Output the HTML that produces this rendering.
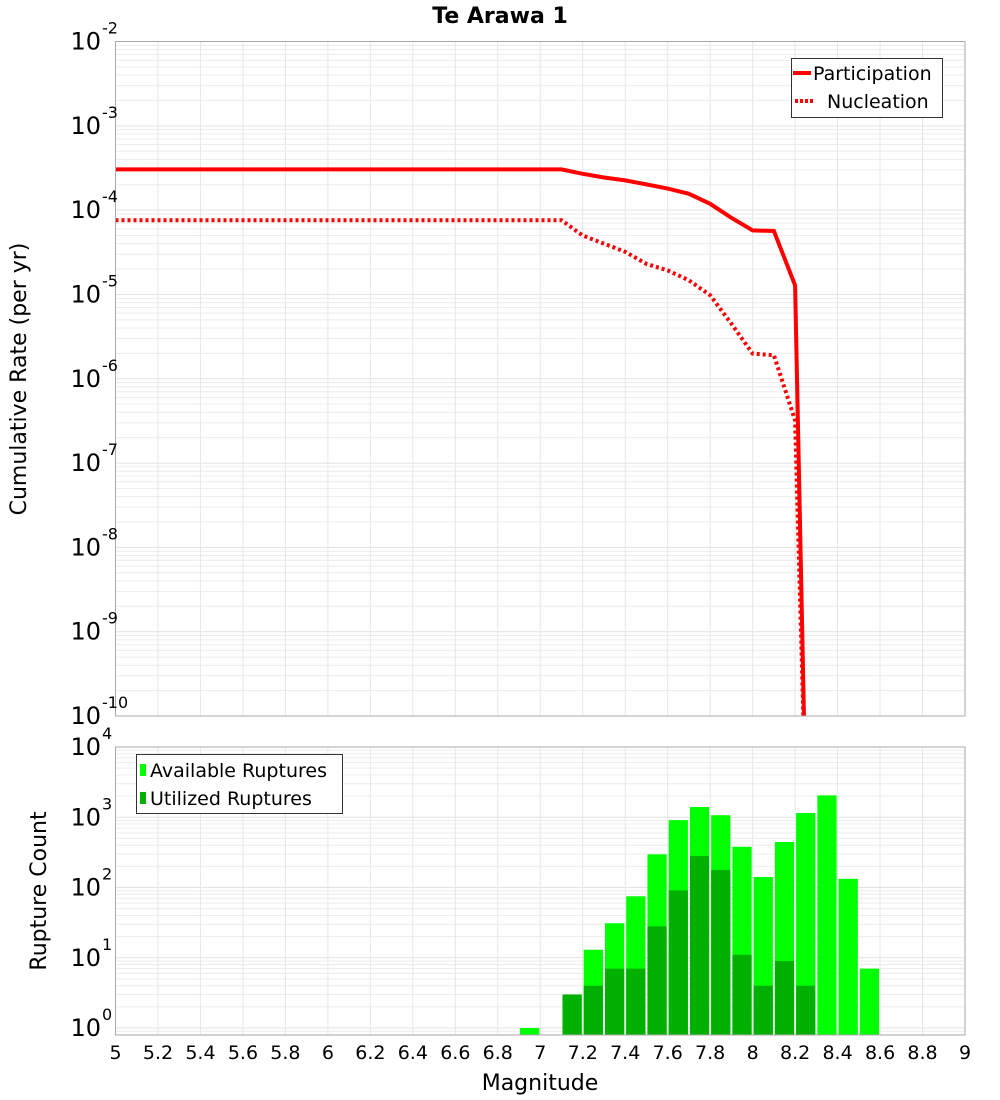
<!DOCTYPE html>
<html><head><meta charset="utf-8"><style>
body{margin:0;background:#fff;}
svg{display:block;font-family:"DejaVu Sans","Liberation Sans",sans-serif;}
</style></head><body>
<svg id="c" width="1000" height="1100" xmlns="http://www.w3.org/2000/svg"></svg>
<script>
const mags = [5,5.1,5.2,5.3,5.4,5.5,5.6,5.7,5.8,5.9,6,6.1,6.2,6.3,6.4,6.5,6.6,6.7,6.8,6.9,7,7.1,7.2,7.3,7.4,7.5,7.6,7.7,7.8,7.9,8,8.1,8.2,8.25];
const participation = [3.04e-4,3.04e-4,3.04e-4,3.04e-4,3.04e-4,3.04e-4,3.04e-4,3.04e-4,3.04e-4,3.04e-4,3.04e-4,3.04e-4,3.04e-4,3.04e-4,3.04e-4,3.04e-4,3.04e-4,3.04e-4,3.04e-4,3.04e-4,3.04e-4,3.04e-4,2.7e-4,2.44e-4,2.25e-4,2.02e-4,1.8e-4,1.56e-4,1.19e-4,8.1e-5,5.75e-5,5.65e-5,1.28e-5,1e-11];
const nucleation = [7.6e-5,7.6e-5,7.6e-5,7.6e-5,7.6e-5,7.6e-5,7.6e-5,7.6e-5,7.6e-5,7.6e-5,7.6e-5,7.6e-5,7.6e-5,7.6e-5,7.6e-5,7.6e-5,7.6e-5,7.6e-5,7.6e-5,7.6e-5,7.6e-5,7.6e-5,5.0e-5,4.0e-5,3.2e-5,2.3e-5,1.93e-5,1.47e-5,9.8e-6,4.5e-6,1.99e-6,1.9e-6,3.2e-7,1e-11];
const binMags = [6.9,7.1,7.2,7.3,7.4,7.5,7.6,7.7,7.8,7.9,8.0,8.1,8.2,8.3,8.4,8.5];
const available = [1,3,13,31,75,297,910,1400,1070,380,141,445,1150,2050,133,7];
const utilized = [0,3,4,7,7,28,91,280,178,11,4,9,4,0,0,0];
const xTicks = ["5","5.2","5.4","5.6","5.8","6","6.2","6.4","6.6","6.8","7","7.2","7.4","7.6","7.8","8","8.2","8.4","8.6","8.8","9"];
const topExps = [-2,-3,-4,-5,-6,-7,-8,-9,-10];
const botExps = [4,3,2,1,0];

const svg=document.getElementById('c');
const NS='http://www.w3.org/2000/svg';
function el(t,a,p){const e=document.createElementNS(NS,t);for(const k in a)e.setAttribute(k,a[k]);(p||svg).appendChild(e);return e;}
const L=115.5,R=965,T1=41.5,B1=716,T2=747,B2=1035;
const x=m=>L+(m-5)*(R-L)/4;
const yTop=v=>T1+(-2-Math.log10(v))*(B1-T1)/8;
const yBot=v=>1028-Math.log10(v)*70.25;

// grids
function grid(top,bot,yf,dmin,dmax,name){
  const g=el('g',{});
  
  
  for(let d=dmin;d<dmax;d++)for(let k=1;k<10;k++){const yy=yf(k*Math.pow(10,d));if(yy<top||yy>bot)continue;
    el('line',{x1:L,x2:R,y1:yy,y2:yy,stroke:k==1?'#e2e2e2':'#ececec','stroke-width':1},g);}
  for(let i=1;i<20;i++){const xx=x(5+i*0.2);el('line',{x1:xx,x2:xx,y1:top,y2:bot,stroke:'#e6e6e6','stroke-width':1},g);}
}
grid(T1,B1,yTop,-10,-2,'top-grid');
grid(T2,B2,yBot,-1,4,'bottom-grid');

// title
const ti=el('text',{x:500,y:23,'text-anchor':'middle','font-size':22,'font-weight':'bold'});ti.textContent='Te Arawa 1';


// curves
function path(vals){return vals.map((v,i)=>(i?'L':'M')+x(mags[i]).toFixed(1)+','+yTop(v).toFixed(1)).join(' ');}
const clip=el('clipPath',{id:'cp'});el('rect',{x:L,y:T1,width:R-L,height:B1-T1},clip);
const pp=el('path',{d:path(participation),fill:'none',stroke:'#ff0000','stroke-width':4,'clip-path':'url(#cp)'});

const np=el('path',{d:path(nucleation),fill:'none',stroke:'#ff0000','stroke-width':4,'stroke-dasharray':'3,3','clip-path':'url(#cp)'});


// bars
binMags.forEach((m,i)=>{
  const x0=x(m)+1,w=x(m+0.1)-x(m)-2;
  if(available[i]>0){const yy=yBot(available[i]);const r=el('rect',{x:x0,y:yy,width:w,height:B2-yy,fill:'#00ff00'});
    }
  if(utilized[i]>0){const yy=yBot(utilized[i]);const r=el('rect',{x:x0,y:yy,width:w,height:B2-yy,fill:'#00b000'});
    }
});

// frames
el('rect',{x:L,y:T1,width:R-L,height:B1-T1,fill:'none',stroke:'#aaa','stroke-width':1});
el('rect',{x:L,y:T2,width:R-L,height:B2-T2,fill:'none',stroke:'#aaa','stroke-width':1});

// y tick labels
function ylab(yy,e,name){const t=el('text',{x:101,y:yy+8,'text-anchor':'end','font-size':24});t.textContent='10';
  
  const s=el('text',{x:102,y:yy-8,'font-size':16});s.textContent=String(e);}
topExps.forEach(e=>ylab(yTop(Math.pow(10,e)),e,'y-tick-label'));
botExps.forEach(e=>ylab(yBot(Math.pow(10,e)),e,'y2-tick-label'));

// x tick labels
xTicks.forEach(s=>{const t=el('text',{x:x(parseFloat(s)),y:1059,'text-anchor':'middle','font-size':19});t.textContent=s;
  });

// axis titles
let a=el('text',{x:540,y:1090,'text-anchor':'middle','font-size':22});a.textContent='Magnitude';

a=el('text',{x:0,y:0,'text-anchor':'middle','font-size':22,transform:'translate(26,379) rotate(-90)'});a.textContent='Cumulative Rate (per yr)';

a=el('text',{x:0,y:0,'text-anchor':'middle','font-size':22,transform:'translate(46,891) rotate(-90)'});a.textContent='Rupture Count';


// legends
let lg=el('g',{});
el('rect',{x:791.5,y:58.5,width:151,height:59,fill:'#fff',stroke:'#333','stroke-width':1},lg);
el('line',{x1:793,x2:811,y1:73,y2:73,stroke:'#f00','stroke-width':4},lg);
el('line',{x1:795,x2:815,y1:101,y2:101,stroke:'#f00','stroke-width':4,'stroke-dasharray':'3,2'},lg);
let t=el('text',{x:813,y:80,'font-size':19},lg);t.textContent='Participation';
t=el('text',{x:827,y:108,'font-size':19},lg);t.textContent='Nucleation';
lg=el('g',{});
el('rect',{x:136.5,y:754.5,width:206,height:59,fill:'#fff',stroke:'#333','stroke-width':1},lg);
el('rect',{x:140,y:764,width:6,height:12,fill:'#00ff00'},lg);
el('rect',{x:140,y:792,width:6,height:12,fill:'#00b000'},lg);
t=el('text',{x:150,y:777,'font-size':19},lg);t.textContent='Available Ruptures';
t=el('text',{x:150,y:805,'font-size':19},lg);t.textContent='Utilized Ruptures';
</script>
</body></html>
